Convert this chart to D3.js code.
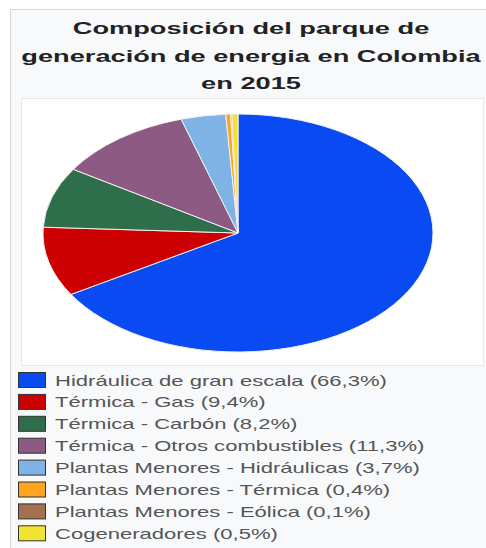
<!DOCTYPE html>
<html>
<head>
<meta charset="utf-8">
<script src="https://cdn.jsdelivr.net/npm/d3@7/dist/d3.min.js"></script>
<style>
  html, body { margin: 0; padding: 0; background: #ffffff; }
  svg { display: block; }
</style>
</head>
<body>
<svg id="chart" width="486" height="548"></svg>
<script>
// Composition of Colombia's power generation fleet, 2015 (% of installed capacity)
const titleLines = ["Composición del parque de", "generación de energia en Colombia", "en 2015"];
const categories = [
  "Hidráulica de gran escala",
  "Térmica - Gas",
  "Térmica - Carbón",
  "Térmica - Otros combustibles",
  "Plantas Menores - Hidráulicas",
  "Plantas Menores - Térmica",
  "Plantas Menores - Eólica",
  "Cogeneradores"
];
const shares = [66.3, 9.4, 8.2, 11.3, 3.7, 0.4, 0.1, 0.5];
const colors = ["#0a4af2", "#cc0000", "#2f6e4b", "#8c5a82", "#7fb2e5", "#ffa41f", "#a47150", "#f2e232"];

const svg = d3.select("#chart");
const titleStretch = 1.6;   // horizontal stretch of the heading
const legendStretch = 1.575; // horizontal stretch of the legend labels

// frame
svg.append("rect")
  .attr("x", 10.5).attr("y", 9.5)
  .attr("width", 490).attr("height", 560)
  .attr("fill", "#f8f9fa").attr("stroke", "#d4d7db");

// title
const title = svg.append("g");
titleLines.forEach((t, i) => {
  title.append("text")
    .attr("transform", `translate(251,${34 + i * 27.5}) scale(${titleStretch},1)`)
    .attr("text-anchor", "middle")
    .attr("font-family", "Liberation Sans, Arial, sans-serif")
    .attr("font-weight", "bold")
    .attr("font-size", 17)
    .attr("fill", "#222")
    .text(t);
});

// pie panel
svg.append("rect")
  .attr("x", 21.5).attr("y", 98.5)
  .attr("width", 462).attr("height", 267)
  .attr("fill", "#ffffff").attr("stroke", "#e6e8eb");

const ry = 119;
const pie = d3.pie().sort(null).value(d => d)(shares);
const arc = d3.arc().innerRadius(0).outerRadius(ry);

svg.append("g")
  .attr("transform", `translate(238,233) scale(${195 / ry},1)`)
  .selectAll("path")
  .data(pie)
  .join("path")
  .attr("d", arc)
  .attr("fill", (d, i) => colors[i])
  .attr("stroke", "#f4f0f0")
  .attr("stroke-width", 1)
  .attr("vector-effect", "non-scaling-stroke");

// legend
const fmt = v => d3.format(".1f")(v).replace(".", ",");
const legend = svg.append("g");
const rows = legend.selectAll("g")
  .data(categories)
  .join("g")
  .attr("transform", (d, i) => `translate(0,${372 + i * 21.9})`);

rows.append("rect")
  .attr("x", 18.5).attr("y", 0.5)
  .attr("width", 27).attr("height", 15)
  .attr("fill", (d, i) => colors[i])
  .attr("stroke", "#333")
  .attr("stroke-width", 1);

rows.append("text")
  .attr("transform", `translate(55,13.5) scale(${legendStretch},1)`)
  .attr("font-family", "Liberation Sans, Arial, sans-serif")
  .attr("font-size", 14)
  .attr("fill", "#555")
  .text((d, i) => `${d} (${fmt(shares[i])}%)`);
</script>
</body>
</html>
